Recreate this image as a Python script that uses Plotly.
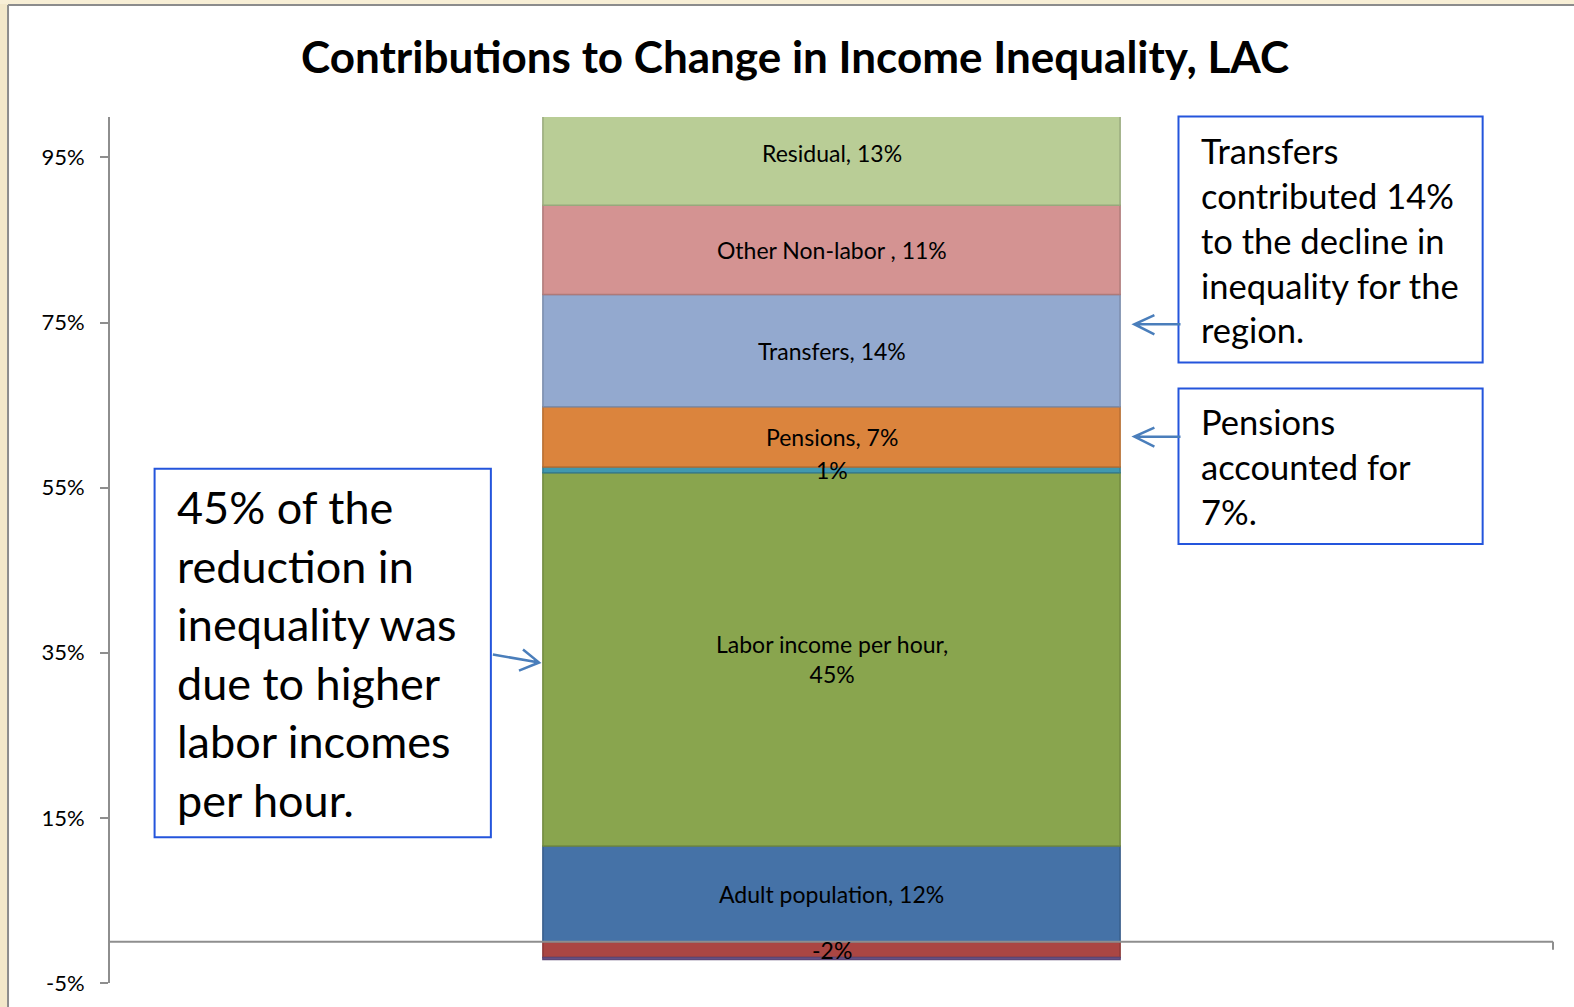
import plotly.graph_objects as go

# Decomposition of the change in income inequality (percent contributions)
region = ["LAC"]
series_names = [
    "Adult population", "Employment", "Labor income per hour", "Other labor",
    "Capital", "Pensions", "Transfers", "Other Non-labor ", "Residual",
]
series_values = [11.6, -1.9, 45.2, -0.25, 0.7, 7.3, 13.6, 10.8, 12.6]
# Text shown inside each segment (None = no label)
label_names = [
    "Adult population", "", "Labor income per hour", None,
    "", "Pensions", "Transfers", "Other Non-labor ", "Residual",
]
fill_colors = [
    "#4572A7", "#AA4643", "#89A54E", "#71588F",
    "#4198AF", "#DB843D", "#93A9CF", "#D49392", "#B9CD96",
]
edge_colors = [
    "#385D8A", "#8C3836", "#71893F", "#5C4776",
    "#357D91", "#B66D31", "#7A8CAB", "#AE7A79", "#98A97C",
]
y_ticks = [-5, 15, 35, 55, 75, 95]
y_range = [-5, 99.9]

W, H = 1574, 1007
S = W / 1568  # layout sketch units -> page pixels
ML, MR, MT, MB = round(110 * S), round(W - 1547 * S), round(117 * S), round(H - 979 * S)
PW, PH = W - ML - MR, H - MT - MB


def px(x):
    return (x * S - ML) / PW


def py(y):
    return (H - MB - y * S) / PH


fig = go.Figure()
for name, val, fc, ec in zip(series_names, series_values, fill_colors, edge_colors):
    fig.add_trace(go.Bar(
        x=region, y=[val], name=name,
        marker=dict(color=fc, line=dict(color=ec, width=1.5)),
        hoverinfo="name+y",
    ))

# Segment labels, centred on each stacked segment
annotations = []
pos_base, neg_base = 0.0, 0.0
for lab, val in zip(label_names, series_values):
    if val >= 0:
        mid = pos_base + val / 2
        pos_base += val
    else:
        mid = neg_base + val / 2
        neg_base += val
    if lab is None:
        continue
    pct = f"{round(val):d}%"
    if lab == "":
        txt = pct
    elif lab.startswith("Labor"):
        txt = f"{lab},<br>{pct}"
    else:
        txt = f"{lab}, {pct}"
    annotations.append(dict(
        x=region[0], y=mid, xref="x", yref="y", text=txt, showarrow=False,
        font=dict(family="Lato", size=23, color="#000000"),
    ))

body_font = "Lato"
annotations += [
    dict(
        x=px(174), y=py(651), xref="paper", yref="paper", xanchor="left", yanchor="middle",
        text="45% of the<br>reduction in<br>inequality was<br>due to higher<br>labor incomes<br>per hour.",
        align="left", showarrow=False,
        font=dict(family=body_font, size=45, color="#000000"),
    ),
    dict(
        x=px(1194), y=py(239), xref="paper", yref="paper", xanchor="left", yanchor="middle",
        text="Transfers<br>contributed 14%<br>to the decline in<br>inequality for the<br>region.",
        align="left", showarrow=False,
        font=dict(family=body_font, size=34.5, color="#000000"),
    ),
    dict(
        x=px(1194), y=py(465), xref="paper", yref="paper", xanchor="left", yanchor="middle",
        text="Pensions<br>accounted for<br>7%.",
        align="left", showarrow=False,
        font=dict(family=body_font, size=34.5, color="#000000"),
    ),
]

shapes = [
    # page frame
    dict(type="rect", xref="paper", yref="paper", x0=px(0), x1=px(8), y0=py(H), y1=py(0),
         fillcolor="#F3E8CA", line=dict(width=0), layer="below"),
    dict(type="rect", xref="paper", yref="paper", x0=px(0), x1=px(W), y0=py(4), y1=py(0),
         fillcolor="#F8EFD6", line=dict(width=0), layer="below"),
    dict(type="line", xref="paper", yref="paper", x0=px(8), x1=px(8), y0=py(H), y1=py(5),
         line=dict(color="#8C8C8C", width=2), layer="below"),
    dict(type="line", xref="paper", yref="paper", x0=px(8), x1=px(W), y0=py(5), y1=py(5),
         line=dict(color="#8C8C8C", width=2), layer="below"),
    # category axis at zero
    dict(type="line", xref="paper", yref="y", x0=0, x1=1, y0=0, y1=0,
         line=dict(color="#8E8E8E", width=2), layer="above"),
    dict(type="line", xref="paper", yref="y", ysizemode="pixel", yanchor=0,
         x0=1, x1=1, y0=0, y1=-8, line=dict(color="#8E8E8E", width=2), layer="above"),
]

box_line = dict(color="#2455DC", width=2)
for x0, y0, x1, y1 in [(154, 467, 489, 834), (1174, 116, 1477, 361), (1174, 387, 1477, 542)]:
    shapes.append(dict(type="rect", xref="paper", yref="paper",
                       x0=px(x0), x1=px(x1), y0=py(y1), y1=py(y0),
                       fillcolor="white", line=box_line, layer="above"))


def arrow_path(tail, tip, arm1, arm2):
    pts = [tail, tip, arm1, arm2]
    (tx, ty), (hx, hy), (a1x, a1y), (a2x, a2y) = [(px(a), py(b)) for a, b in pts]
    return (f"M {tx},{ty} L {hx},{hy} M {a1x},{a1y} L {hx},{hy} L {a2x},{a2y}")


arrow_line = dict(color="#4A7EBB", width=2.5)
for tail, tip, a1, a2 in [
    ((491, 652), (537, 660), (521, 647), (517, 668)),
    ((1176, 323), (1130, 323), (1150, 314), (1150, 333)),
    ((1176, 435), (1130, 435), (1150, 426), (1150, 445)),
]:
    shapes.append(dict(type="path", xref="paper", yref="paper",
                       path=arrow_path(tail, tip, a1, a2), line=arrow_line, layer="above"))

fig.update_layout(
    width=W, height=H,
    margin=dict(l=ML, r=MR, t=MT, b=MB),
    paper_bgcolor="white", plot_bgcolor="white",
    barmode="relative", bargap=0.6,
    showlegend=False,
    title=dict(
        text="<b>Contributions to Change in Income Inequality, LAC</b>",
        x=792 * S / W, xanchor="center", y=1 - 57 * S / H, yanchor="middle",
        font=dict(family="Lato", size=44, color="#000000"),
    ),
    xaxis=dict(range=[-0.5, 0.5], showticklabels=False, showline=False,
               showgrid=False, zeroline=False, ticks=""),
    yaxis=dict(
        range=y_range, tickvals=y_ticks, ticktext=[f"{v}%" for v in y_ticks],
        showgrid=False, zeroline=False, showline=True, linecolor="#8E8E8E", linewidth=2,
        ticks="outside", ticklen=8, tickcolor="#8E8E8E", tickwidth=2,
        ticklabelstandoff=11,
        tickfont=dict(family="Lato", size=22, color="#000000"),
    ),
    annotations=annotations,
    shapes=shapes,
)

fig.write_html("out.html")
